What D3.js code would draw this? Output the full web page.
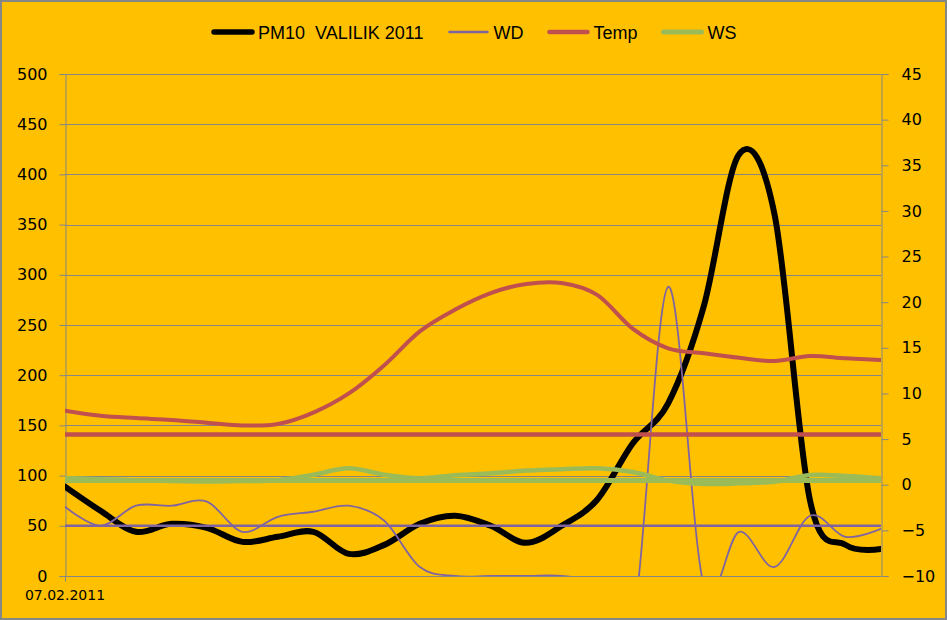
<!DOCTYPE html>
<html>
<head>
<meta charset="utf-8">
<script src="https://cdn.jsdelivr.net/npm/d3@7"></script>
<style>
  body { margin: 0; background: #fff; }
  svg { display: block; }
  text { font-family: "DejaVu Sans", Verdana, sans-serif; fill: #000; }
</style>
</head>
<body>
<script>
// hourly values, 07.02.2011
const hours = d3.range(24);
const dateLabel = '07.02.2011';

const pm10 = [89, 65, 44, 52, 48, 34, 39, 44, 22, 31, 52, 60, 50, 33, 50, 76, 132, 172, 268, 420, 360, 75, 31, 27];
const wd = [69, 50, 70, 70, 74, 44, 59, 64, 70, 55, 9, 0, 0, 0, 0, -8, -45, 288, -8, 44, 9, 60, 39, 47];
const temp = [8.1, 7.55, 7.3, 7.1, 6.8, 6.5, 6.65, 7.9, 10.0, 13.1, 16.8, 19.2, 21.0, 22.0, 22.1, 20.8, 17.1, 14.95, 14.4, 13.9, 13.55, 14.1, 13.85, 13.67];
const ws = [0.75, 0.6, 0.5, 0.4, 0.35, 0.4, 0.5, 1.1, 1.8, 1.1, 0.7, 1.05, 1.25, 1.55, 1.7, 1.8, 1.4, 0.45, 0.08, 0.15, 0.33, 1.07, 0.96, 0.7];

// flat reference series
const pmLimit = hours.map(() => 50);    // left axis
const tempRef = hours.map(() => 5.5);   // right axis
const wsRef = hours.map(() => 0.45);    // right axis

const leftTicks = d3.range(0, 501, 50);
const rightTicks = d3.range(-10, 46, 5);

const legendItems = [
  { name: 'PM10  VALILIK 2011', color: '#000000', width: 5.5 },
  { name: 'WD', color: '#8064A2', width: 2.5 },
  { name: 'Temp', color: '#C0504D', width: 4.5 },
  { name: 'WS', color: '#9BBB59', width: 5 }
];

const W = 947, H = 620;
const plotL = 65, plotR = 881, plotT = 74, plotB = 576;

const svg = d3.select('body').append('svg')
  .attr('width', W)
  .attr('height', H);

svg.append('rect')
  .attr('x', 1).attr('y', 1)
  .attr('width', W - 2).attr('height', H - 2)
  .attr('fill', '#FFC000')
  .attr('stroke', '#868686')
  .attr('stroke-width', 2);

const x = d3.scaleLinear().domain([0, hours.length - 1]).range([plotL, plotR]);
const yL = d3.scaleLinear().domain([0, 500]).range([plotB, plotT]);
const yR = d3.scaleLinear().domain([-10, 45]).range([plotB, plotT]);

// gridlines (left axis)
svg.append('g')
  .selectAll('line')
  .data(leftTicks)
  .join('line')
  .attr('x1', plotL).attr('x2', plotR)
  .attr('y1', d => Math.round(yL(d)) + 0.5)
  .attr('y2', d => Math.round(yL(d)) + 0.5)
  .attr('stroke', '#868686')
  .attr('stroke-width', 1);

// left axis
const axL = svg.append('g')
  .attr('transform', `translate(${plotL + 0.5},0)`)
  .call(d3.axisLeft(yL).tickValues(leftTicks).tickSize(6).tickPadding(12));
axL.selectAll('text').style('font-size', '16px');

// right axis
const axR = svg.append('g')
  .attr('transform', `translate(${plotR + 0.5},0)`)
  .call(d3.axisRight(yR).tickValues(rightTicks).tickSize(7).tickPadding(13).tickFormat(d3.format('d')));
axR.selectAll('text').style('font-size', '16px');

[axL, axR].forEach(ax => {
  ax.select('.domain').attr('stroke', '#868686');
  ax.selectAll('.tick line').attr('stroke', '#868686');
});

// bottom axis: single category label
const axB = svg.append('g').attr('transform', `translate(0,${plotB + 0.5})`);
axB.append('line')
  .attr('x1', plotL).attr('x2', plotR)
  .attr('stroke', '#868686');
axB.append('line')
  .attr('x1', x(0) + 0.5).attr('x2', x(0) + 0.5)
  .attr('y1', 0).attr('y2', 5)
  .attr('stroke', '#868686');
axB.append('text')
  .attr('x', x(0))
  .attr('y', 23)
  .attr('text-anchor', 'middle')
  .style('font-size', '14px')
  .text(dateLabel);

// plot clip
svg.append('clipPath').attr('id', 'plot')
  .append('rect')
  .attr('x', plotL).attr('y', plotT - 10)
  .attr('width', plotR - plotL).attr('height', plotB - plotT + 10);

const plot = svg.append('g').attr('clip-path', 'url(#plot)');

const lineL = d3.line().x((d, i) => x(i)).y(d => yL(d)).curve(d3.curveCardinal.tension(0));
const lineR = d3.line().x((d, i) => x(i)).y(d => yR(d)).curve(d3.curveCardinal.tension(0));
const flatL = d3.line().x((d, i) => x(i)).y(d => yL(d));
const flatR = d3.line().x((d, i) => x(i)).y(d => yR(d));

const addLine = (gen, data, color, width) => {
  plot.append('path')
    .datum(data)
    .attr('d', gen)
    .attr('fill', 'none')
    .attr('stroke', color)
    .attr('stroke-width', width)
    .attr('stroke-linejoin', 'round')
    .attr('stroke-linecap', 'round');
};

addLine(lineL, pm10, '#000000', 6);
addLine(flatL, pmLimit, '#8064A2', 2.5);
addLine(lineL, wd, '#8064A2', 1.8);
addLine(lineR, temp, '#C0504D', 4);
addLine(flatR, tempRef, '#C0504D', 4.5);
addLine(lineR, ws, '#9BBB59', 4.5);
addLine(flatR, wsRef, '#9BBB59', 5);

// legend
const legend = svg.append('g');
let lx = 212;
legendItems.forEach(item => {
  legend.append('line')
    .attr('x1', lx + 2).attr('x2', lx + 40)
    .attr('y1', 32).attr('y2', 32)
    .attr('stroke', item.color)
    .attr('stroke-width', item.width)
    .attr('stroke-linecap', 'round');
  const t = legend.append('text')
    .attr('x', lx + 46)
    .attr('y', 39)
    .style('font-family', '"Liberation Sans", Arial, sans-serif')
    .style('font-size', '18px')
    .style('white-space', 'pre')
    .text(item.name);
  lx += 46 + t.node().getComputedTextLength() + 24;
});
</script>
</body>
</html>
